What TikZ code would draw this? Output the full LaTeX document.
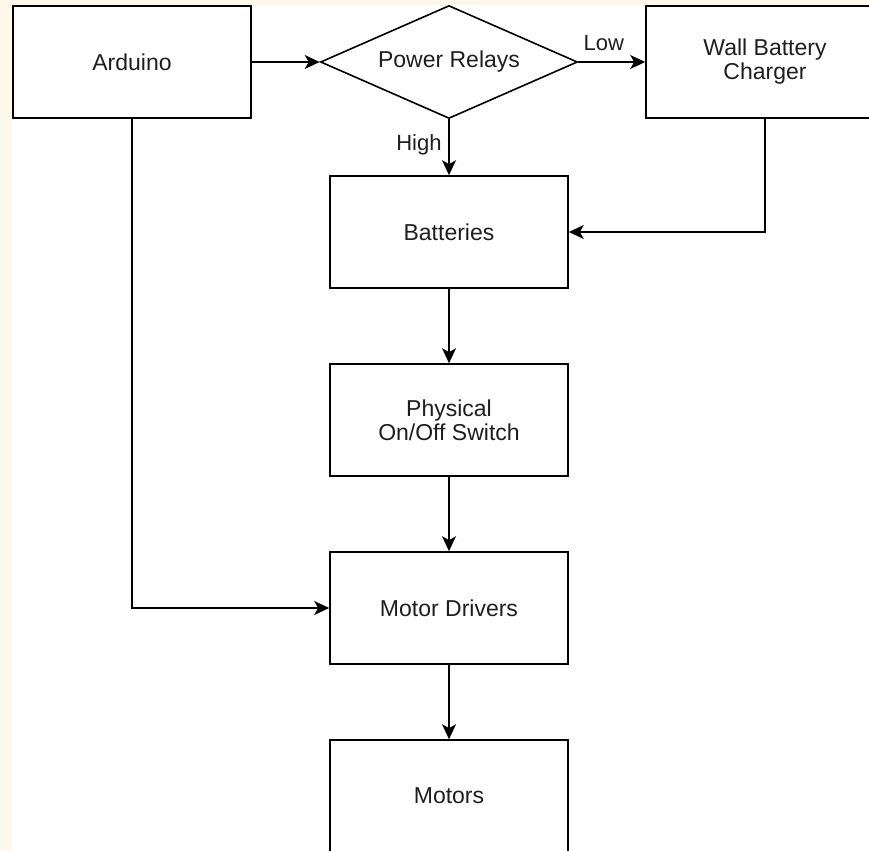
\documentclass[tikz,border=0pt]{standalone}
\usepackage{fontspec}
\setmainfont{Liberation Sans}
\usetikzlibrary{arrows,arrows.meta,shapes.geometric,positioning}
\definecolor{cream}{RGB}{255,249,236}
\definecolor{ink}{RGB}{30,30,30}

\tikzset{
  block/.style={draw, thick, fill=white, minimum width=119pt, minimum height=56pt,
                align=center, text=ink, font=\fontsize{11.5}{12}\selectfont},
  relay/.style={draw, thick, diamond, aspect=2.3, inner sep=0pt, minimum width=128.5pt,
                minimum height=56.5pt, text=ink, font=\fontsize{11.5}{12}\selectfont},
  wire/.style={thick, ->},
  tag/.style={text=ink, font=\fontsize{11}{12}\selectfont}
}

\begin{document}
\begin{tikzpicture}[x=0.5pt,y=-0.5pt,>={Stealth[length=7.5pt,width=7pt,inset=2pt]},auto,node distance=94pt]
            \useasboundingbox (0,0) rectangle (869,851);
            \fill[cream] (0,0) rectangle (869,851);
            \fill[white] (12,5) rectangle (869,851);

            \node[block]  (arduino)  at (132,62)  {Arduino};
            \node[relay]  (relays)   at (449,62)  {Power Relays};
            \node[block]  (charger)  at (765,62)  {Wall Battery\\Charger};
            \node[block]  (batt)     at (449,232) {Batteries};
            \node[block]  (switch)   [below of=batt]   {Physical\\On/Off Switch};
            \node[block]  (drivers)  [below of=switch] {Motor Drivers};
            \node[block]  (motors)   [below of=drivers] {Motors};

            	\draw[wire]
                		 (arduino) edge (relays)
                         (relays)  edge node[tag, pos=0.38, yshift=2pt] {Low} (charger)
                         (relays)  edge node[tag, swap, pos=0.45] {High} (batt)
                         (batt)    edge (switch)
                         (switch)  edge (drivers)
                         (drivers) edge (motors);
                \draw[wire] (charger) |- (batt);
                \draw[wire] (arduino) |- (drivers);
        \end{tikzpicture}
\end{document}
